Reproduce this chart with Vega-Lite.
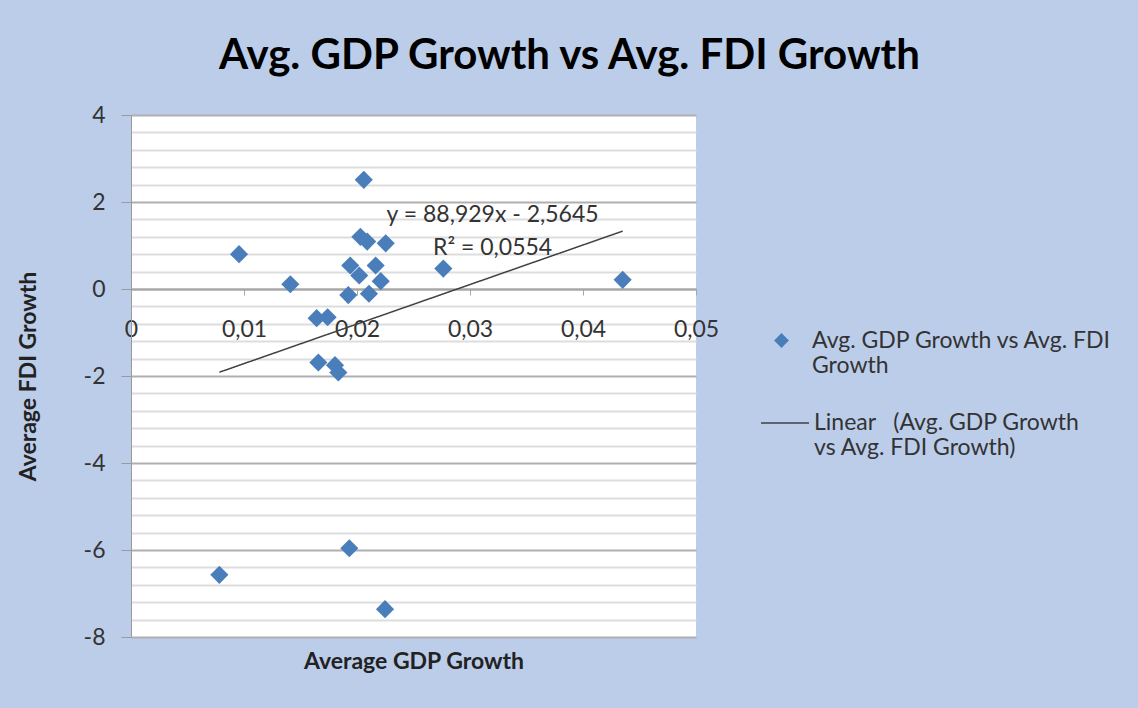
{
  "$schema": "https://vega.github.io/schema/vega-lite/v6.json",
  "width": 565,
  "height": 522,
  "autosize": {"type": "none"},
  "padding": {"left": 131, "top": 115, "right": 442, "bottom": 71},
  "background": "#bccdea",
  "config": {
    "font": "Lato",
    "view": {"stroke": null, "fill": "white"}
  },
  "title": {
    "text": "Avg. GDP Growth vs Avg. FDI Growth",
    "font": "Lato",
    "fontSize": 42,
    "fontWeight": "bold",
    "color": "#000000",
    "anchor": "middle",
    "frame": "group",
    "dx": 156,
    "offset": 26
  },
  "data": {
    "values": [
      {"gdp": 0.0206, "fdi": 2.51},
      {"gdp": 0.00956, "fdi": 0.80},
      {"gdp": 0.0141, "fdi": 0.11},
      {"gdp": 0.0203, "fdi": 1.20},
      {"gdp": 0.0209, "fdi": 1.09},
      {"gdp": 0.02254, "fdi": 1.05},
      {"gdp": 0.0194, "fdi": 0.54},
      {"gdp": 0.0202, "fdi": 0.31},
      {"gdp": 0.02165, "fdi": 0.54},
      {"gdp": 0.0221, "fdi": 0.18},
      {"gdp": 0.01923, "fdi": -0.14},
      {"gdp": 0.02106, "fdi": -0.11},
      {"gdp": 0.01643, "fdi": -0.67},
      {"gdp": 0.0174, "fdi": -0.65},
      {"gdp": 0.01658, "fdi": -1.69},
      {"gdp": 0.01805, "fdi": -1.75},
      {"gdp": 0.01835, "fdi": -1.92},
      {"gdp": 0.01932, "fdi": -5.96},
      {"gdp": 0.00782, "fdi": -6.57},
      {"gdp": 0.02248, "fdi": -7.36},
      {"gdp": 0.02764, "fdi": 0.47},
      {"gdp": 0.04351, "fdi": 0.21}
    ]
  },
  "layer": [
    {
      "mark": {"type": "point", "shape": "diamond", "filled": true, "size": 330, "opacity": 1},
      "encoding": {
        "x": {
          "field": "gdp",
          "type": "quantitative",
          "scale": {"domain": [0, 0.05], "nice": false, "zero": false},
          "axis": {
            "values": [0, 0.01, 0.02, 0.03, 0.04, 0.05],
            "tickCount": 100,
            "offset": -348,
            "grid": false,
            "domainColor": "#a6a6a6",
            "domainWidth": 2,
            "tickColor": "#a6a6a6",
            "tickSize": 6,
            "tickWidth": 1,
            "labelExpr": "datum.value == 0 ? '0' : replace(format(datum.value, '.2f'), '.', ',')",
            "labelFont": "Lato",
            "labelFontSize": 23,
            "labelColor": "#333333",
            "labelPadding": 23,
            "labelFlush": false,
            "labelOverlap": false,
            "title": "Average GDP Growth",
            "titleFont": "Lato",
            "titleFontSize": 23,
            "titleFontWeight": "bold",
            "titleColor": "#222222",
            "titleY": 372,
            "titleBaseline": "middle"
          }
        },
        "y": {
          "field": "fdi",
          "type": "quantitative",
          "scale": {"domain": [-8, 4], "nice": false, "zero": false},
          "axis": {
            "values": [-8, -7.6, -7.2, -6.8, -6.4, -6, -5.6, -5.2, -4.8, -4.4, -4, -3.6, -3.2, -2.8, -2.4, -2, -1.6, -1.2, -0.8, -0.4, 0, 0.4, 0.8, 1.2, 1.6, 2, 2.4, 2.8, 3.2, 3.6, 4],
            "tickCount": 100,
            "grid": true,
            "gridColor": {"condition": {"test": "datum.value % 2 == 0", "value": "#b0b0b0"}, "value": "#dddddd"},
            "gridWidth": 2,
            "tickColor": {"condition": {"test": "datum.value % 2 == 0", "value": "#9a9a9a"}, "value": "transparent"},
            "tickSize": 10,
            "domainColor": "#9a9a9a",
            "domainWidth": 1,
            "labelExpr": "datum.value % 2 == 0 ? '' + datum.value : ''",
            "labelFont": "Lato",
            "labelFontSize": 23,
            "labelColor": "#333333",
            "labelPadding": 16,
            "labelOverlap": false,
            "title": "Average FDI Growth",
            "titleFont": "Lato",
            "titleFontSize": 23,
            "titleFontWeight": "bold",
            "titleColor": "#222222",
            "titleX": -103,
            "titleY": 261,
            "titleBaseline": "middle"
          }
        },
        "color": {
          "datum": "Avg. GDP Growth vs Avg. FDI Growth",
          "type": "nominal",
          "scale": {"range": ["#4a7ebb"]},
          "legend": {
            "title": null,
            "orient": "none",
            "legendX": 639,
            "legendY": 214,
            "padding": 0,
            "symbolSize": 220,
            "symbolOpacity": 1,
            "labelOffset": 19,
            "labelFont": "Lato",
            "labelFontSize": 23,
            "labelColor": "#333333",
            "labelLimit": 400,
            "labelExpr": "['Avg. GDP Growth vs Avg. FDI', 'Growth']",
            "encode": {
              "labels": {"lineHeight": {"value": 31}}
            }
          }
        }
      }
    },
    {
      "transform": [{"regression": "fdi", "on": "gdp"}],
      "mark": {"type": "line", "strokeWidth": 1.5, "color": "#404040"},
      "encoding": {
        "x": {"field": "gdp", "type": "quantitative"},
        "y": {"field": "fdi", "type": "quantitative"},
        "strokeDash": {
          "datum": "Linear (Avg. GDP Growth vs Avg. FDI Growth)",
          "type": "nominal",
          "scale": {"range": [[1, 0]]},
          "legend": {
            "title": null,
            "orient": "none",
            "legendX": 629,
            "legendY": 283,
            "padding": 0,
            "symbolSize": 2300,
            "symbolStrokeWidth": 1.5,
            "symbolStrokeColor": "#404040",
            "labelOffset": 4,
            "labelFont": "Lato",
            "labelFontSize": 23,
            "labelColor": "#333333",
            "labelLimit": 400,
            "labelExpr": "['\u00a0\u00a0Linear\u00a0\u00a0\u00a0(Avg. GDP Growth', 'vs Avg. FDI Growth)']",
            "encode": {
              "labels": {"lineHeight": {"value": 32}}
            }
          }
        }
      }
    },
    {
      "data": {
        "values": [
          {"label": "y = 88,929x - 2,5645", "gdp": 0.0320, "fdi": 1.70},
          {"label": "R² = 0,0554", "gdp": 0.0320, "fdi": 0.94}
        ]
      },
      "mark": {"type": "text", "font": "Lato", "fontSize": 23, "color": "#333333", "align": "center", "baseline": "middle"},
      "encoding": {
        "x": {"field": "gdp", "type": "quantitative"},
        "y": {"field": "fdi", "type": "quantitative"},
        "text": {"field": "label"}
      }
    }
  ]
}
